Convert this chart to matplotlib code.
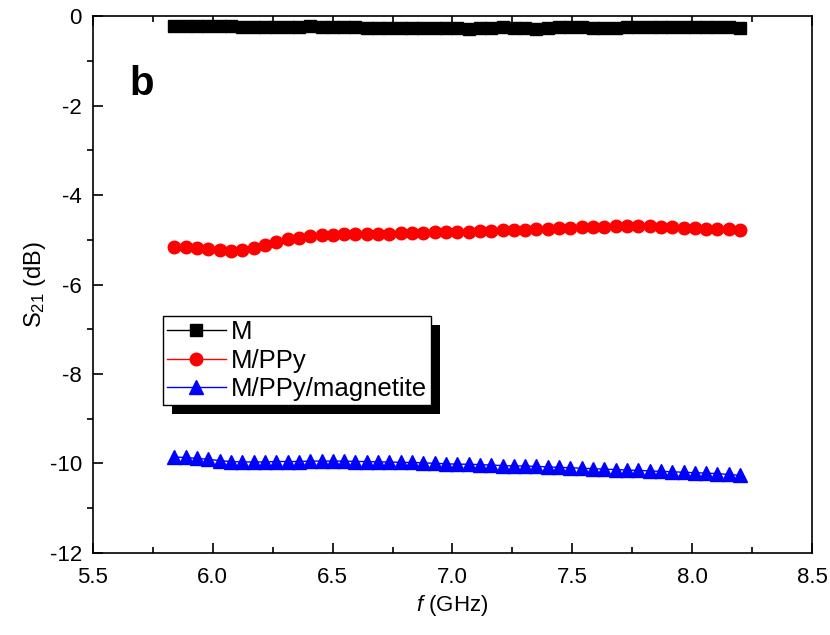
import numpy as np
import matplotlib
matplotlib.use("Agg")
import matplotlib.pyplot as plt
from matplotlib.ticker import MultipleLocator, FormatStrFormatter
from matplotlib.patches import Rectangle
from matplotlib.transforms import IdentityTransform

plt.rcParams["font.family"] = ["Liberation Sans", "DejaVu Sans"]
plt.rcParams["axes.unicode_minus"] = False
plt.rcParams["mathtext.fontset"] = "custom"
plt.rcParams["mathtext.rm"] = "Liberation Sans"
plt.rcParams["mathtext.it"] = "Liberation Sans:italic"

# frequency sweep, 51 points
freq = np.linspace(5.84, 8.2, 51)

s21_m = [-0.22, -0.21, -0.22, -0.22, -0.21, -0.22, -0.24, -0.24, -0.24, -0.24,
         -0.24, -0.23, -0.21, -0.23, -0.25, -0.24, -0.25, -0.26, -0.26, -0.27,
         -0.27, -0.26, -0.27, -0.27, -0.26, -0.27, -0.28, -0.27, -0.27, -0.25,
         -0.26, -0.27, -0.28, -0.26, -0.25, -0.25, -0.25, -0.26, -0.26, -0.26,
         -0.25, -0.24, -0.24, -0.24, -0.25, -0.25, -0.24, -0.25, -0.25, -0.25,
         -0.27]

s21_ppy = [-5.15, -5.17, -5.19, -5.21, -5.22, -5.24, -5.22, -5.18, -5.12, -5.05,
           -4.99, -4.95, -4.92, -4.90, -4.89, -4.88, -4.88, -4.88, -4.87, -4.86,
           -4.85, -4.84, -4.84, -4.83, -4.83, -4.82, -4.82, -4.81, -4.80, -4.79,
           -4.78, -4.77, -4.76, -4.75, -4.74, -4.73, -4.72, -4.71, -4.71, -4.70,
           -4.70, -4.70, -4.70, -4.71, -4.72, -4.73, -4.74, -4.75, -4.75, -4.76,
           -4.77]

s21_mag = [-9.86, -9.87, -9.89, -9.91, -9.94, -9.96, -9.97, -9.97, -9.97, -9.96,
           -9.96, -9.96, -9.95, -9.95, -9.95, -9.95, -9.96, -9.96, -9.97, -9.97,
           -9.98, -9.98, -9.99, -10.00, -10.01, -10.02, -10.02, -10.03, -10.04, -10.05,
           -10.06, -10.06, -10.07, -10.08, -10.09, -10.10, -10.11, -10.12, -10.13, -10.14,
           -10.15, -10.16, -10.17, -10.18, -10.19, -10.20, -10.21, -10.22, -10.23, -10.25,
           -10.27]

labels = ["M", "M/PPy", "M/PPy/magnetite"]

fig = plt.figure(figsize=(8.3, 6.35), dpi=100)
ax = fig.add_axes([0.112, 0.1296, 0.8663, 0.8447])

ax.plot(freq, s21_m, "-s", color="black", ms=8, lw=1, label=labels[0])
ax.plot(freq, s21_ppy, "-o", color="red", ms=9, lw=1, label=labels[1])
ax.plot(freq, s21_mag, "-^", color="blue", ms=9.5, lw=1, label=labels[2])

ax.set_xlim(5.5, 8.5)
ax.set_ylim(-12, 0)
ax.xaxis.set_major_locator(MultipleLocator(0.5))
ax.xaxis.set_minor_locator(MultipleLocator(0.25))
ax.yaxis.set_major_locator(MultipleLocator(2))
ax.yaxis.set_minor_locator(MultipleLocator(1))
ax.xaxis.set_major_formatter(FormatStrFormatter("%.1f"))
ax.yaxis.set_major_formatter(FormatStrFormatter("%d"))

for sp in ax.spines.values():
    sp.set_linewidth(1.2)

ax.tick_params(axis="x", which="major", direction="in", length=7, width=1.2,
               labelsize=16, top=True, pad=10)
ax.tick_params(axis="x", which="minor", direction="in", length=4, width=1.2, top=True)
ax.tick_params(axis="y", which="major", direction="in", length=7, width=1.2,
               labelsize=16, right=False, pad=8)
ax.tick_params(axis="y", which="minor", direction="out", length=4, width=1.2, right=False)

ax.set_xlabel("$f$ (GHz)", fontsize=16, labelpad=4)
ax.set_ylabel("S$_{21}$ (dB)", fontsize=17, labelpad=1)

ax.text(0.05, 0.853, "b", transform=ax.transAxes, fontsize=29, fontweight="bold")

leg = ax.legend(loc="upper left", bbox_to_anchor=(0.0974, 0.441), borderaxespad=0,
                fontsize=18.5, frameon=True, fancybox=False, edgecolor="black",
                framealpha=1, handlelength=2.3, handletextpad=0.2,
                labelspacing=0.18, borderpad=0.15)
leg.get_frame().set_linewidth(1.0)

# solid black drop shadow behind the legend box
fig.canvas.draw()
bb = leg.get_window_extent()
ax.add_patch(Rectangle((bb.x0 + 9, bb.y0 - 9), bb.width, bb.height,
                       transform=IdentityTransform(), facecolor="black",
                       edgecolor="none", zorder=4.9, clip_on=False))

fig.savefig("out.png", dpi=100)
